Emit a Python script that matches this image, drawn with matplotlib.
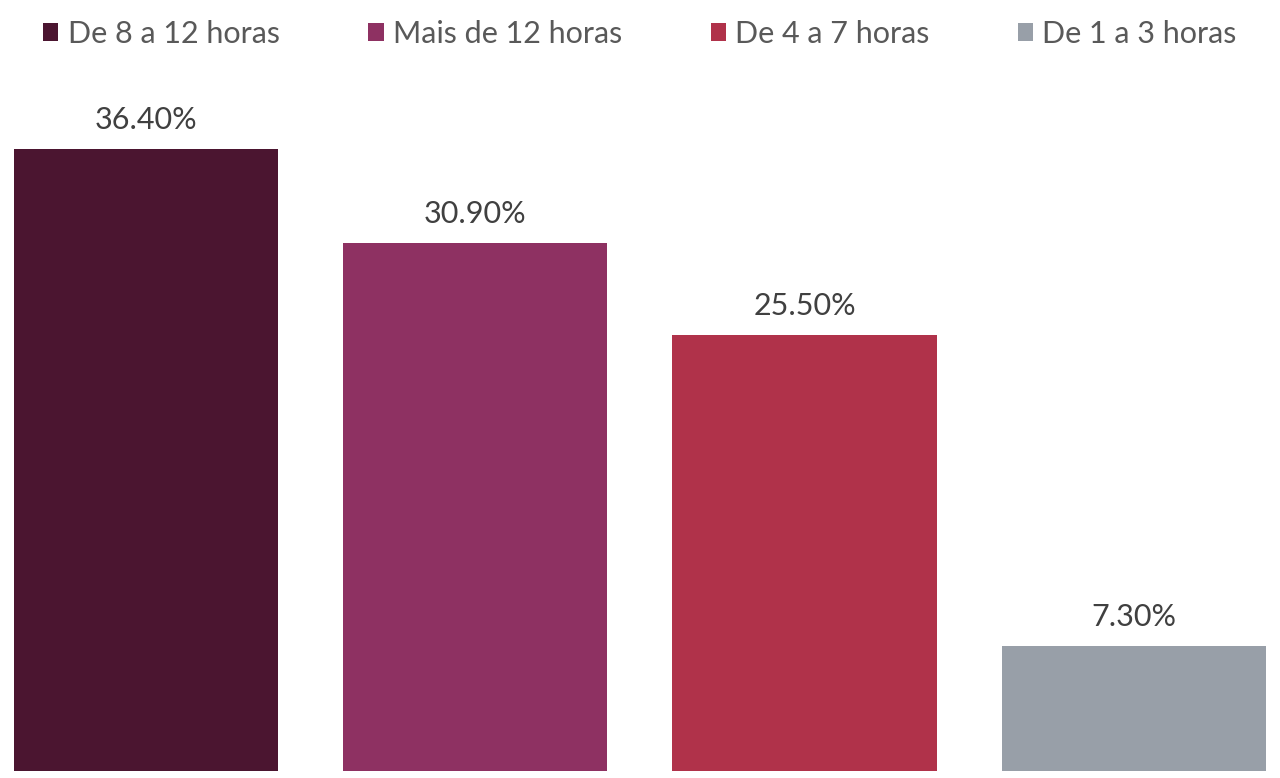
import matplotlib
matplotlib.use("Agg")
import matplotlib.pyplot as plt
from matplotlib.patches import Patch

# Dados
categorias = ["De 8 a 12 horas", "Mais de 12 horas", "De 4 a 7 horas", "De 1 a 3 horas"]
valores = [36.4, 30.9, 25.5, 7.3]
rotulos = ["36.40%", "30.90%", "25.50%", "7.30%"]
cores = ["#4B1530", "#8E3162", "#B0324A", "#989FA8"]

plt.rcParams['font.family'] = ['Lato', 'DejaVu Sans']

fig = plt.figure(figsize=(12.8, 7.78), dpi=100, facecolor='white')
# eixo ocupa a largura toda, base em y=771px
ax = fig.add_axes([0, 1 - 771 / 778, 1, (771 - 100) / 778])

x = list(range(len(categorias)))
ax.bar(x, valores, width=0.802, color=cores)

for xi, v, r in zip(x, valores, rotulos):
    ax.annotate(r, (xi, v), xytext=(0, 11), textcoords='offset points',
                ha='center', va='bottom', fontsize=22, color='#404040')

ax.set_xlim(-0.443, 3.444)
ax.set_ylim(0, 39.26)
ax.axis('off')

handles = [Patch(facecolor=c, edgecolor='none') for c in cores]
fig.legend(handles, categorias, loc='upper center', bbox_to_anchor=(0.5, 1.0),
           ncol=4, frameon=False, fontsize=22, labelcolor='#595959',
           handlelength=0.5, handleheight=0.5, handletextpad=0.3,
           columnspacing=2.9, borderaxespad=0.25)

fig.savefig("out.png", dpi=100, facecolor='white')
